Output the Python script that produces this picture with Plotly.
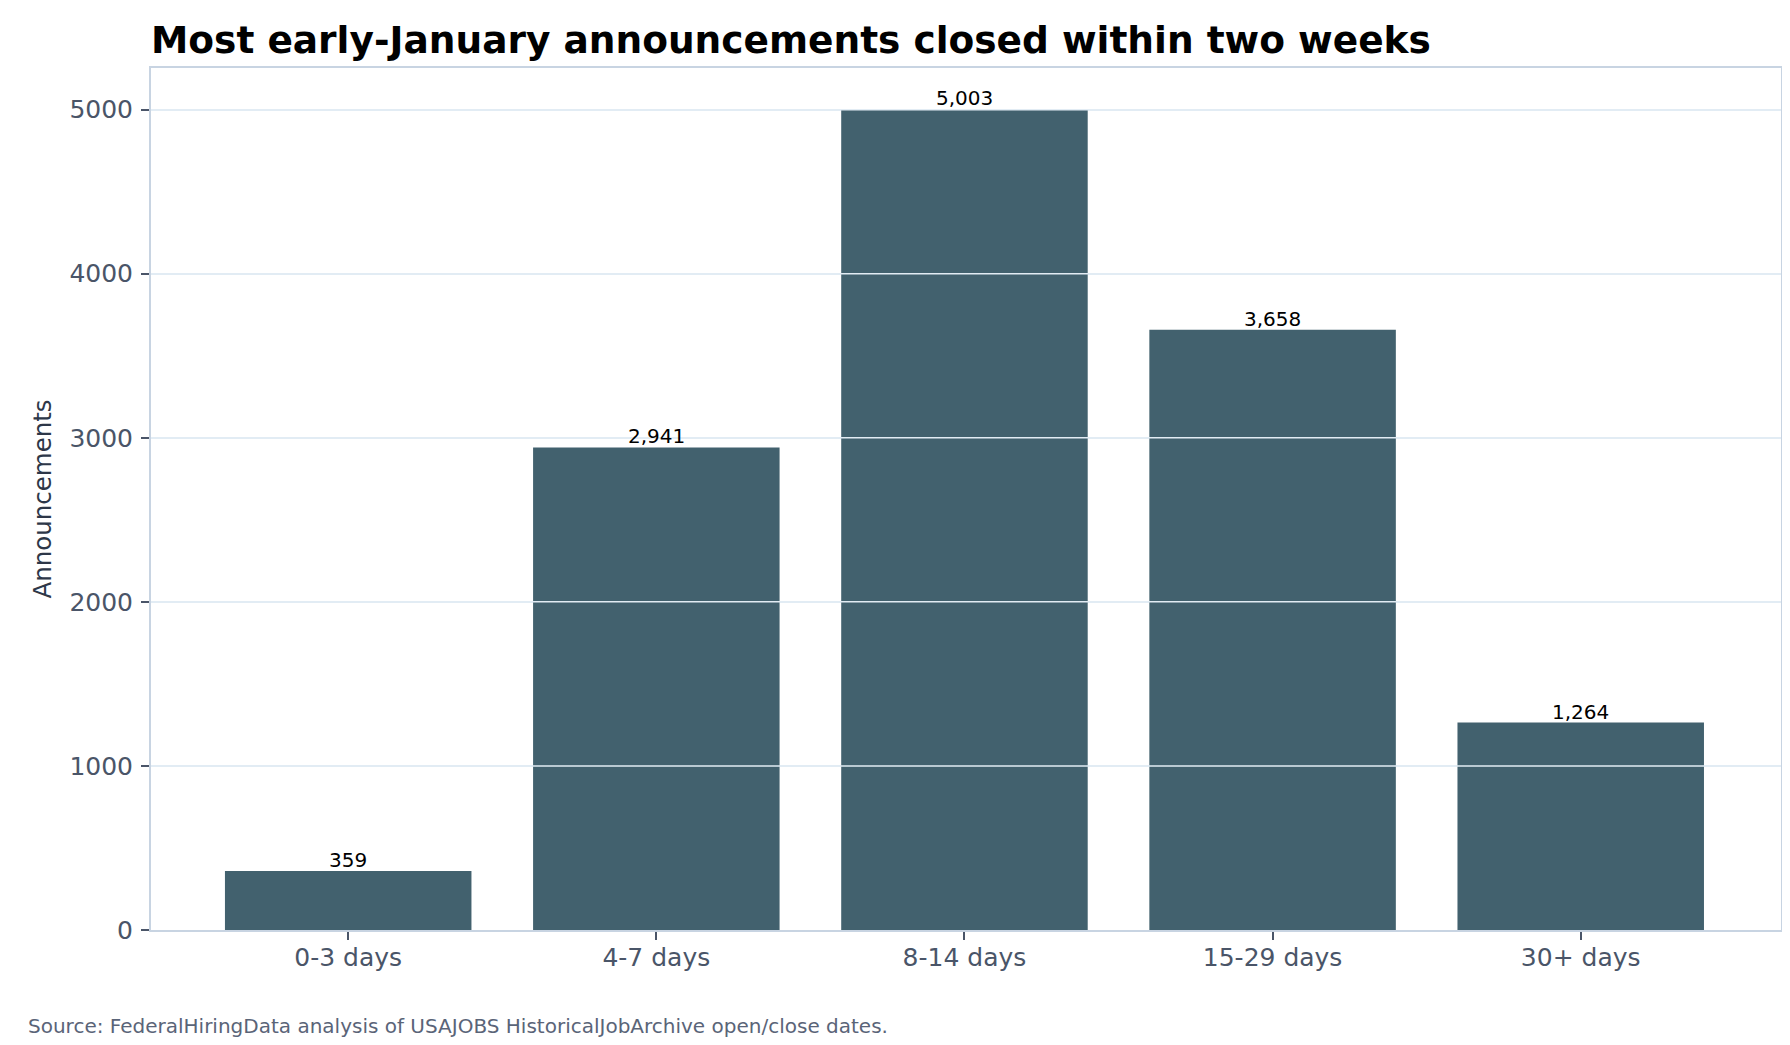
import plotly.graph_objects as go

# closing-window buckets for early-January announcements
categories = ["0-3 days", "4-7 days", "8-14 days", "15-29 days", "30+ days"]
announcements = [359, 2941, 5003, 3658, 1264]
y_ticks = [0, 1000, 2000, 3000, 4000, 5000]

BAR_COLOR = "#42616e"
AXIS_COLOR = "#c8d4e2"
GRID_COLOR = "#e2ecf4"
TICK_TEXT = "#4a5568"
FONT = "DejaVu Sans"

W, H = 1790, 1045
M_L, M_R, M_T, M_B = 143, 17, 60, 123
plot_w = W - M_L - M_R
plot_h = H - M_T - M_B

fig = go.Figure()
fig.add_trace(go.Bar(
    x=categories,
    y=announcements,
    width=0.8,
    marker=dict(color=BAR_COLOR, line=dict(width=0)),
    hoverinfo="skip",
))

# gridlines in the reference run over the bars, so redraw them on top
for v in y_ticks[1:]:
    fig.add_shape(
        type="line", xref="x domain", yref="y",
        x0=0, x1=1, y0=v, y1=v,
        line=dict(color=GRID_COLOR, width=1.5),
        layer="above",
    )

# value labels as annotations so they sit above the gridlines
annotations = [
    dict(x=c, y=v, xref="x", yref="y", text=f"{v:,}",
         showarrow=False, yanchor="bottom", yshift=-3,
         font=dict(family=FONT, size=20, color="black"))
    for c, v in zip(categories, announcements)
]
annotations.append(dict(
    text="Source: FederalHiringData analysis of USAJOBS HistoricalJobArchive open/close dates.",
    xref="paper", yref="paper",
    x=(18 - M_L) / plot_w, xanchor="left",
    y=(H - M_B - 1018) / plot_h, yanchor="middle",
    showarrow=False,
    font=dict(family=FONT, size=20, color="#5a6478"),
))

fig.update_layout(
    width=W,
    height=H,
    paper_bgcolor="white",
    plot_bgcolor="white",
    showlegend=False,
    margin=dict(l=M_L, r=M_R, t=M_T, b=M_B),
    font=dict(family=FONT, color=TICK_TEXT),
    title=dict(
        text="<b>Most early-January announcements closed within two weeks</b>",
        font=dict(family=FONT, size=37.5, color="black"),
        x=M_L / W, xanchor="left",
        y=1 - 32 / H, yanchor="middle",
    ),
    annotations=annotations,
)

fig.update_xaxes(
    range=[-0.64, 4.65],
    showline=True, linecolor=AXIS_COLOR, linewidth=2, mirror=True,
    ticks="outside", ticklen=8, tickcolor=TICK_TEXT, tickwidth=1.5,
    tickfont=dict(family=FONT, size=25, color=TICK_TEXT),
    ticklabelstandoff=-4,
    showgrid=False,
)
fig.update_yaxes(
    range=[0, 5254],
    tickvals=y_ticks,
    showline=True, linecolor=AXIS_COLOR, linewidth=2, mirror=True,
    ticks="outside", ticklen=8, tickcolor=TICK_TEXT, tickwidth=1.5,
    tickfont=dict(family=FONT, size=25, color=TICK_TEXT),
    ticklabelstandoff=3,
    showgrid=True, gridcolor=GRID_COLOR, gridwidth=1.5,
    zeroline=False,
    title=dict(text="Announcements", font=dict(family=FONT, size=24.5, color="#2d3748"), standoff=11),
)

fig.write_html("out.html")
